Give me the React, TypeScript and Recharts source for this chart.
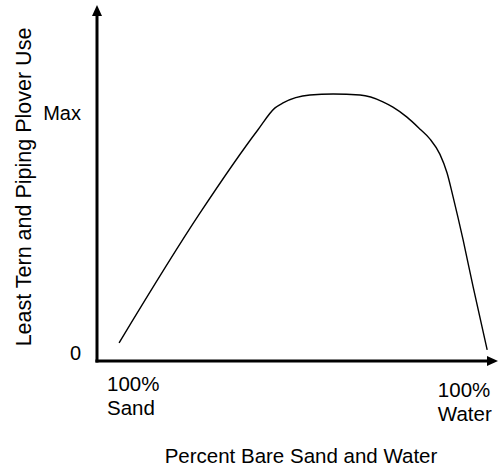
import React from 'react';
import { LineChart, Line, XAxis, YAxis, ReferenceLine } from 'recharts';

// percent of bare sand/water along x (0 = 100% sand, 100 = 100% water)
const sandWaterPct = [5.5, 25.7, 40.1, 44.4, 46.4, 53.1, 58.9, 65.6, 71.3, 73.8, 77.3, 80.5, 83.0, 85.5, 87.3, 88.8, 91.3, 93.8, 97.3];
// relative bird use (0..100 scale)
const birdUse = [5.1, 41.6, 64.9, 71.1, 72.5, 74.7, 75.0, 74.7, 72.8, 71.3, 68.5, 65.2, 62.4, 58.1, 52.8, 46.1, 34.0, 20.8, 3.1];

const yTickValues = [2.2, 69.7];
const yTickLabels = ['0', 'Max'];
const xTickValues = [2.5, 85];
const xTickLabels = [['100%', 'Sand'], ['100%', 'Water']];

const xTitle = 'Percent Bare Sand and Water';
const yTitle = 'Least Tern and Piping Plover Use';

const data = sandWaterPct.map((x, i) => ({ x, use: birdUse[i] }));

const FONT = 'Liberation Sans, Arial, sans-serif';

const YTick = ({ y, index }: any) => (
  <text x={81} y={y} textAnchor="end" dominantBaseline="central" fontSize={20} fontFamily={FONT} fill="#000">
    {yTickLabels[index]}
  </text>
);

const XTick = ({ x, index }: any) => {
  const base = index === 0 ? 391 : 397;
  return (
    <text x={x} y={base} textAnchor="start" fontSize={20.5} fontFamily={FONT} fill="#000">
      <tspan x={x} y={base}>{xTickLabels[index][0]}</tspan>
      <tspan x={x} y={base + 24}>{xTickLabels[index][1]}</tspan>
    </text>
  );
};

// axis line drawn with an arrow head at the far end
const ArrowLine = (props: any) => {
  const { x1, y1, x2, y2 } = props;
  const dx = x2 - x1;
  const dy = y2 - y1;
  const len = Math.sqrt(dx * dx + dy * dy) || 1;
  const ux = dx / len;
  const uy = dy / len;
  const headLen = 11;
  const headW = 5;
  const bx = x2 - ux * headLen;
  const by = y2 - uy * headLen;
  const pts = `${x2},${y2} ${bx - uy * headW},${by + ux * headW} ${bx + uy * headW},${by - ux * headW}`;
  return (
    <g>
      <line x1={x1} y1={y1} x2={bx + ux * 2} y2={by + uy * 2} stroke="#000" strokeWidth={3} />
      <polygon points={pts} fill="#000" />
    </g>
  );
};

const App = () => (
  <div style={{ position: 'absolute', left: 0, top: 0, width: 498, height: 470, background: '#fff' }}>
    <LineChart width={498} height={470} data={data} margin={{ top: 5, right: 0, left: 0, bottom: 0 }}>
      <XAxis
        dataKey="x"
        type="number"
        domain={[0, 100]}
        ticks={xTickValues}
        tick={<XTick />}
        tickLine={false}
        axisLine={false}
        height={109}
        interval={0}
        label={{
          content: () => (
            <text x={301} y={463} textAnchor="middle" fontSize={20.5} fontFamily={FONT} fill="#000">
              {xTitle}
            </text>
          ),
        }}
      />
      <YAxis
        type="number"
        domain={[0, 100]}
        ticks={yTickValues}
        tick={<YTick />}
        tickLine={false}
        axisLine={false}
        width={97}
        interval={0}
        label={{
          content: () => (
            <text
              x={0}
              y={0}
              transform="translate(31,187) rotate(-90)"
              textAnchor="middle"
              fontSize={21.5}
              fontFamily={FONT}
              fill="#000"
            >
              {yTitle}
            </text>
          ),
        }}
      />
      <ReferenceLine
        segment={[{ x: 0, y: -0.4 }, { x: 0, y: 100 }]}
        shape={<ArrowLine />}
        ifOverflow="visible"
      />
      <ReferenceLine
        segment={[{ x: -0.4, y: 0 }, { x: 100, y: 0 }]}
        shape={<ArrowLine />}
        ifOverflow="visible"
      />
      <Line
        type="monotone"
        dataKey="use"
        stroke="#000"
        strokeWidth={1.4}
        dot={false}
        isAnimationActive={false}
      />
    </LineChart>
  </div>
);

export default App;
